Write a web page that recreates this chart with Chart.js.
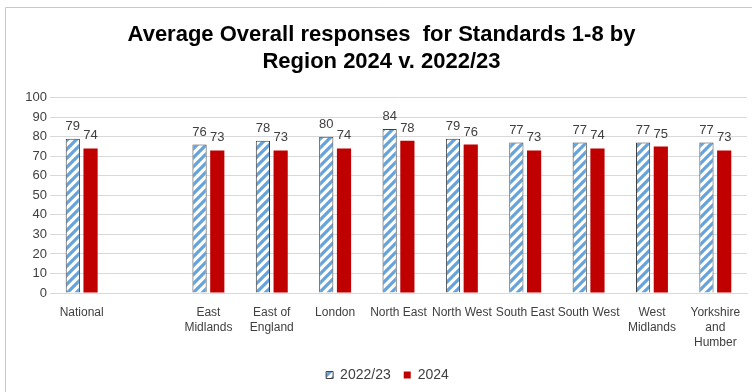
<!DOCTYPE html>
<html>
<head>
<meta charset="utf-8">
<title>Average Overall responses by Region</title>
<script src="https://cdn.jsdelivr.net/npm/chart.js@4/dist/chart.umd.min.js"></script>
<style>
  html, body { margin: 0; padding: 0; background: #fff; }
  #wrap { width: 752px; height: 392px; }
</style>
</head>
<body>
<div id="wrap"><canvas id="regionChart" width="752" height="392"></canvas></div>
<script>
// Regions (blank slot separates National from the regions)
const regions = [
  'National', '', ['East', 'Midlands'], ['East of', 'England'], 'London',
  'North East', 'North West', 'South East', 'South West',
  ['West', 'Midlands'], ['Yorkshire', 'and', 'Humber']
];

// Average overall response (%) per region
const scores2223 = [79, null, 76, 78, 80, 84, 79, 77, 77, 77, 77];
const scores2024 = [74, null, 73, 73, 74, 78, 76, 73, 74, 75, 73];

const yMin = 0;
const yMax = 100;
const yStep = 10;

const FONT = 'Liberation Sans, Arial, sans-serif';

// Diagonal blue stripes on white for the 2022/23 bars
function stripePattern() {
  const size = 9;
  const c = document.createElement('canvas');
  c.width = size;
  c.height = size;
  const g = c.getContext('2d');
  g.fillStyle = '#ffffff';
  g.fillRect(0, 0, size, size);
  g.strokeStyle = '#66a3da';
  g.lineWidth = 3.2;
  g.beginPath();
  g.moveTo(-2, size + 2); g.lineTo(size + 2, -2);
  g.moveTo(-2, 2); g.lineTo(2, -2);
  g.moveTo(size - 2, size + 2); g.lineTo(size + 2, size - 2);
  g.stroke();
  return g.createPattern(c, 'repeat');
}

// Thin grey frame around the chart
const framePlugin = {
  id: 'frame',
  beforeDraw(chart) {
    const ctx = chart.ctx;
    ctx.save();
    ctx.fillStyle = '#fff';
    ctx.fillRect(0, 0, chart.width, chart.height);
    ctx.strokeStyle = '#c8c8c8';
    ctx.lineWidth = 1;
    ctx.beginPath();
    ctx.moveTo(5.5, chart.height);
    ctx.lineTo(5.5, 7.5);
    ctx.lineTo(chart.width, 7.5);
    ctx.stroke();
    ctx.restore();
  }
};

// Value labels above each bar
const valueLabels = {
  id: 'valueLabels',
  afterDatasetsDraw(chart) {
    const ctx = chart.ctx;
    ctx.save();
    ctx.font = '13px ' + FONT;
    ctx.fillStyle = '#404040';
    ctx.textAlign = 'center';
    ctx.textBaseline = 'alphabetic';
    chart.data.datasets.forEach((ds, i) => {
      chart.getDatasetMeta(i).data.forEach((bar, j) => {
        const v = ds.data[j];
        if (v == null) return;
        ctx.fillText(String(v), bar.x, bar.y - 9);
      });
    });
    ctx.restore();
  }
};

// Legend sits a little right of centre
const legendShift = {
  id: 'legendShift',
  afterLayout(chart) {
    if (chart.legend) {
      chart.legend.left += 6;
      chart.legend.right += 6;
    }
  }
};

const ctx = document.getElementById('regionChart').getContext('2d');
new Chart(ctx, {
  type: 'bar',
  data: {
    labels: regions,
    datasets: [
      {
        label: '2022/23',
        data: scores2223,
        backgroundColor: stripePattern(),
        borderColor: '#404040',
        borderWidth: 1,
        borderSkipped: 'bottom'
      },
      {
        label: '2024',
        data: scores2024,
        backgroundColor: '#c00000',
        borderWidth: 0
      }
    ]
  },
  options: {
    responsive: false,
    animation: false,
    devicePixelRatio: 1,
    categoryPercentage: 0.56,
    barPercentage: 0.8,
    layout: { padding: { left: 16, right: 5, top: 0, bottom: 0 } },
    scales: {
      x: {
        afterFit(scale) { scale.height += 1; },
        grid: { display: false },
        border: { display: true, color: '#d9d9d9' },
        ticks: {
          autoSkip: false,
          maxRotation: 0,
          padding: 4,
          color: '#404040',
          font: { family: FONT, size: 12, lineHeight: 1.25 }
        }
      },
      y: {
        min: yMin,
        max: yMax,
        afterFit(scale) { scale.width = 34; },
        grid: { color: '#d9d9d9', drawTicks: false },
        border: { display: false },
        ticks: {
          stepSize: yStep,
          autoSkip: false,
          padding: 3,
          color: '#404040',
          font: { family: FONT, size: 13 }
        }
      }
    },
    plugins: {
      title: {
        display: true,
        text: ['Average Overall responses  for Standards 1-8 by', 'Region 2024 v. 2022/23'],
        color: '#000',
        font: { family: FONT, size: 22, weight: 'bold', lineHeight: 1.22 },
        padding: { top: 22, bottom: 22 }
      },
      legend: {
        position: 'bottom',
        labels: {
          boxWidth: 7,
          boxHeight: 7,
          padding: 13,
          color: '#404040',
          font: { family: FONT, size: 14 }
        }
      },
      tooltip: { enabled: false }
    }
  },
  plugins: [framePlugin, valueLabels, legendShift]
});
</script>
</body>
</html>
